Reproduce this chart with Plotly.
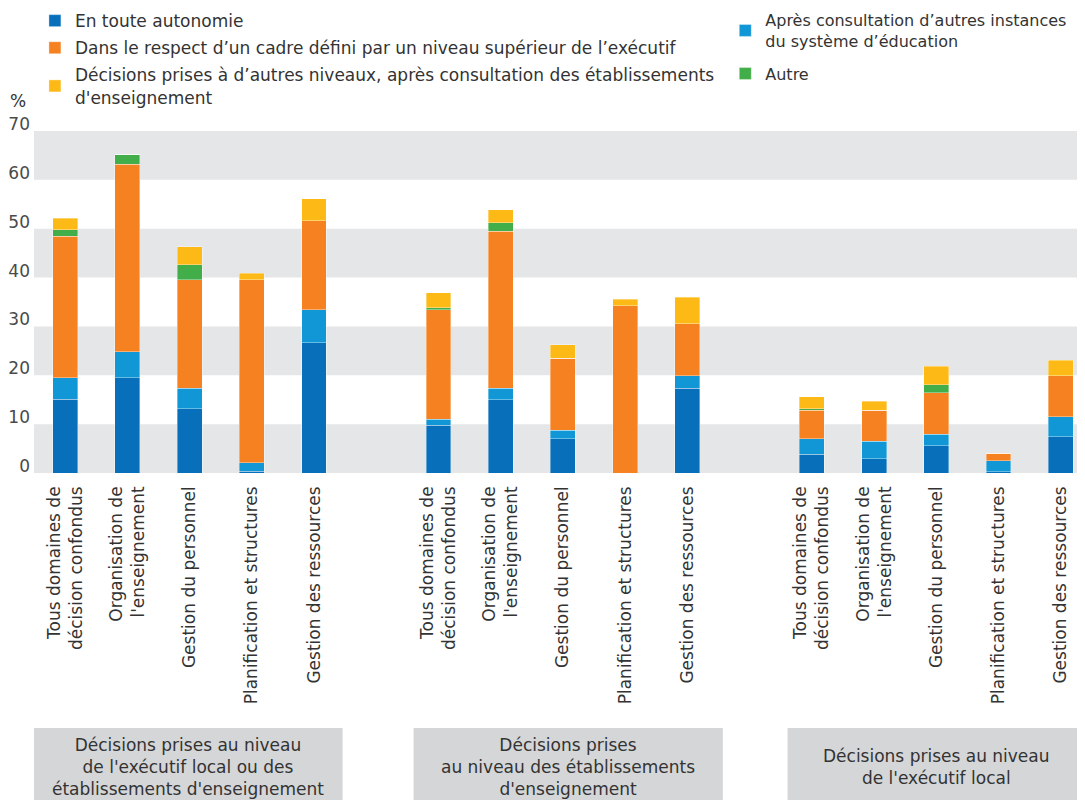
import plotly.graph_objects as go

domains = ["Tous domaines de<br>décision confondus", "Organisation de<br>l'enseignement",
           "Gestion du personnel", "Planification et structures", "Gestion des ressources"]
groups = ["Décisions prises au niveau<br>de l'exécutif local ou des<br>établissements d'enseignement",
          "Décisions prises<br>au niveau des établissements<br>d'enseignement",
          "Décisions prises au niveau<br>de l'exécutif local"]

autonomie = [15.1, 19.5, 13.2, 0.4, 26.7, 9.8, 15.0, 7.0, 0.0, 17.3, 3.8, 2.9, 5.6, 0.3, 7.4]
consultation = [4.4, 5.3, 4.1, 1.7, 6.7, 1.2, 2.3, 1.8, 0.0, 2.6, 3.2, 3.6, 2.3, 2.2, 4.1]
cadre = [29.0, 38.4, 22.3, 37.5, 18.2, 22.4, 32.2, 14.7, 34.2, 10.7, 5.8, 6.3, 8.5, 1.5, 8.4]
autre = [1.3, 1.9, 3.0, 0.0, 0.0, 0.4, 1.7, 0.0, 0.0, 0.0, 0.4, 0.0, 1.7, 0.0, 0.0]
autres_niveaux = [2.3, 0.0, 3.7, 1.3, 4.5, 3.1, 2.7, 2.7, 1.4, 5.4, 2.4, 1.9, 3.7, 0.0, 3.2]

series = [
    ("En toute autonomie", autonomie, "#0870ba", "legend"),
    ("Après consultation d’autres instances<br>du système d’éducation", consultation, "#1196d6", "legend2"),
    ("Dans le respect d’un cadre défini par un niveau supérieur de l’exécutif", cadre, "#f68121", "legend"),
    ("Autre", autre, "#42ae4a", "legend2"),
    ("Décisions prises à d’autres niveaux, après consultation des établissements<br>d'enseignement",
     autres_niveaux, "#fdb916", "legend"),
]

n_dom = len(domains)
step = n_dom + 1
xpos = [g * step + i for g in range(len(groups)) for i in range(n_dom)]
ticktext = [d for _ in groups for d in domains]

FONT = "DejaVu Sans"
TXT = "#333333"
FS = 17

fig = go.Figure()
for k, (name, vals, color, lg) in enumerate(series):
    fig.add_trace(go.Bar(
        x=xpos, y=vals, name=name, legend=lg, legendgroup=f"g{k}",
        marker=dict(color=color, line=dict(color="rgba(255,255,255,0.45)", width=0.8)),
        width=0.4,
    ))

shapes = []
for lo in range(0, 70, 20):
    shapes.append(dict(type="rect", xref="paper", yref="y", x0=0, x1=1, y0=lo, y1=lo + 10,
                       fillcolor="#e5e6e7", line=dict(width=0), layer="below"))

box_x = [(-0.5, 4.46), (5.6, 10.57), (11.61, 16.39)]
annotations = []
for (x0, x1), lab in zip(box_x, groups):
    shapes.append(dict(type="rect", xref="x", yref="paper", x0=x0, x1=x1,
                       y0=-0.956, y1=-0.7456, fillcolor="#d5d6d8", line=dict(width=0)))
    annotations.append(dict(xref="x", yref="paper", x=(x0 + x1) / 2, y=-0.86, text=lab,
                            showarrow=False, font=dict(size=FS, color=TXT, family=FONT),
                            align="center", xanchor="center", yanchor="middle"))

annotations.append(dict(xref="paper", yref="paper", x=-0.0247, y=1.088, text="%", showarrow=False,
                        font=dict(size=FS, color=TXT, family=FONT), xanchor="left", yanchor="middle"))

fig.update_layout(
    width=1077, height=792,
    barmode="stack",
    plot_bgcolor="white", paper_bgcolor="white",
    margin=dict(l=26, r=0, t=123, b=327, autoexpand=False),
    font=dict(family=FONT, size=FS, color=TXT),
    xaxis=dict(tickmode="array", tickvals=xpos, ticktext=ticktext, tickangle=-90,
               range=[-0.5, 16.39], showgrid=False, zeroline=False, showline=False,
               ticks="", automargin=False, ticklabelstandoff=9,
               tickfont=dict(size=FS, color=TXT, family=FONT)),
    yaxis=dict(range=[0, 70], tickvals=[0, 10, 20, 30, 40, 50, 60, 70], showgrid=False,
               zeroline=False, showline=False, ticks="", ticklabelshift=-7, ticklabelstandoff=3,
               automargin=False, tickfont=dict(size=FS, color="#4a4a4a", family=FONT)),
    shapes=shapes,
    annotations=annotations,
    legend=dict(xref="container", yref="paper", x=0.025, y=1.374, xanchor="left", yanchor="top",
                orientation="v", traceorder="grouped", bgcolor="rgba(0,0,0,0)", tracegroupgap=2,
                font=dict(size=FS, color=TXT, family=FONT), itemclick=False),
    legend2=dict(xref="container", yref="paper", x=0.666, y=1.374, xanchor="left", yanchor="top",
                 orientation="v", traceorder="grouped", bgcolor="rgba(0,0,0,0)", tracegroupgap=9,
                 font=dict(size=16, color=TXT, family=FONT), itemclick=False),
    bargap=0.6,
)

fig.write_html("out.html")
